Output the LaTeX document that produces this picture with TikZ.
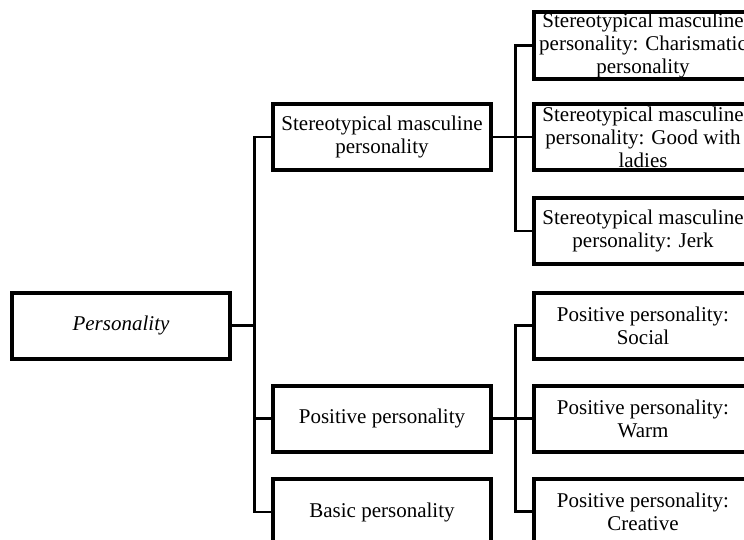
\documentclass[tikz,border=0pt]{standalone}
\usepackage{fontspec}
\setmainfont{Liberation Serif}
\newcommand{\gap}{22.5}   % box edge to vertical trunk

\tikzset{
  box/.style={draw, line width=4pt, text width=208pt, inner xsep=5pt,
    inner ysep=1pt, minimum height=66pt, align=flush center,
    font=\fontsize{21}{23}\selectfont},
  conn/.style={line width=2.6pt}
}

\begin{document}
\begin{tikzpicture}[x=1pt,y=-1pt]
  \clip (0,0) rectangle (744,540);
%
  \node[box] (pers) at (121,325.5) {\textit{Personality}};
  % second level
  \node[box] (stereo) at (382,137) {Stereotypical masculine personality};
  \node[box] (posit)  at (382,418.5) {Positive personality};
  \node[box] (basic)  at (382,512) {Basic personality};
  % third level
  \node[box] (charis) at (643,45.5) {Stereotypical masculine personality: Charismatic personality};
  \node[box] (ladies) at (643,137) {Stereotypical masculine personality: Good with ladies};
  \node[box] (jerk)   at (643,231) {Stereotypical masculine personality: Jerk};
  \node[box] (social) at (643,325.5) {Positive personality: Social};
  \node[box] (warm)   at (643,418.5) {Positive personality: Warm};
  \node[box] (creat)  at (643,511.5) {Positive personality: Creative};
%
  \draw[conn] (pers.east) -- ++(\gap,0) |- (stereo.west);
  \draw[conn] (pers.east) -- ++(\gap,0) |- (posit.west);
  \draw[conn] (pers.east) -- ++(\gap,0) |- (basic.west);
  \draw[conn] (stereo.east) -- ++(\gap,0) |- (charis.west);
  \draw[conn] (stereo.east) -- (ladies.west);
  \draw[conn] (stereo.east) -- ++(\gap,0) |- (jerk.west);
  \draw[conn] (posit.east) -- ++(\gap,0) |- (social.west);
  \draw[conn] (posit.east) -- (warm.west);
  \draw[conn] (posit.east) -- ++(\gap,0) |- (creat.west);
\end{tikzpicture}
\end{document}
